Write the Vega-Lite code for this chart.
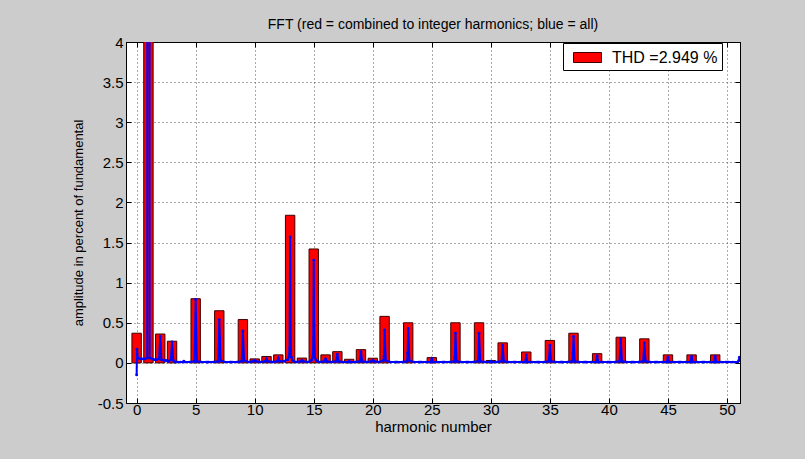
{
  "$schema": "https://vega.github.io/schema/vega-lite/v6.json",
  "width": 614,
  "height": 361,
  "autosize": {"type": "none"},
  "padding": {"left": 126, "top": 42, "right": 65, "bottom": 56},
  "background": "#cccccc",
  "config": {
    "view": {"fill": "white", "stroke": "black", "strokeWidth": 1},
    "font": "Liberation Sans"
  },
  "title": {
    "text": "FFT (red = combined to integer harmonics; blue = all)",
    "fontSize": 14,
    "fontWeight": "normal",
    "font": "Liberation Sans",
    "color": "black",
    "anchor": "middle",
    "offset": 3
  },
  "datasets": {
    "bars": [
      {"harmonic": 0, "amplitude": 0.37, "series": "THD =2.949 %"},
      {"harmonic": 1, "amplitude": 100, "series": "THD =2.949 %"},
      {"harmonic": 2, "amplitude": 0.36, "series": "THD =2.949 %"},
      {"harmonic": 3, "amplitude": 0.27, "series": "THD =2.949 %"},
      {"harmonic": 5, "amplitude": 0.80, "series": "THD =2.949 %"},
      {"harmonic": 7, "amplitude": 0.65, "series": "THD =2.949 %"},
      {"harmonic": 9, "amplitude": 0.54, "series": "THD =2.949 %"},
      {"harmonic": 10, "amplitude": 0.05, "series": "THD =2.949 %"},
      {"harmonic": 11, "amplitude": 0.08, "series": "THD =2.949 %"},
      {"harmonic": 12, "amplitude": 0.10, "series": "THD =2.949 %"},
      {"harmonic": 13, "amplitude": 1.84, "series": "THD =2.949 %"},
      {"harmonic": 14, "amplitude": 0.06, "series": "THD =2.949 %"},
      {"harmonic": 15, "amplitude": 1.42, "series": "THD =2.949 %"},
      {"harmonic": 16, "amplitude": 0.10, "series": "THD =2.949 %"},
      {"harmonic": 17, "amplitude": 0.14, "series": "THD =2.949 %"},
      {"harmonic": 18, "amplitude": 0.045, "series": "THD =2.949 %"},
      {"harmonic": 19, "amplitude": 0.165, "series": "THD =2.949 %"},
      {"harmonic": 20, "amplitude": 0.058, "series": "THD =2.949 %"},
      {"harmonic": 21, "amplitude": 0.58, "series": "THD =2.949 %"},
      {"harmonic": 23, "amplitude": 0.50, "series": "THD =2.949 %"},
      {"harmonic": 25, "amplitude": 0.066, "series": "THD =2.949 %"},
      {"harmonic": 27, "amplitude": 0.50, "series": "THD =2.949 %"},
      {"harmonic": 29, "amplitude": 0.50, "series": "THD =2.949 %"},
      {"harmonic": 30, "amplitude": 0.03, "series": "THD =2.949 %"},
      {"harmonic": 31, "amplitude": 0.25, "series": "THD =2.949 %"},
      {"harmonic": 33, "amplitude": 0.136, "series": "THD =2.949 %"},
      {"harmonic": 35, "amplitude": 0.28, "series": "THD =2.949 %"},
      {"harmonic": 37, "amplitude": 0.37, "series": "THD =2.949 %"},
      {"harmonic": 39, "amplitude": 0.115, "series": "THD =2.949 %"},
      {"harmonic": 41, "amplitude": 0.32, "series": "THD =2.949 %"},
      {"harmonic": 43, "amplitude": 0.30, "series": "THD =2.949 %"},
      {"harmonic": 45, "amplitude": 0.10, "series": "THD =2.949 %"},
      {"harmonic": 47, "amplitude": 0.10, "series": "THD =2.949 %"},
      {"harmonic": 49, "amplitude": 0.10, "series": "THD =2.949 %"}
    ],
    "fft": [
      {"harmonic": 0, "amplitude": -0.15}, {"harmonic": 0.03, "amplitude": 0.17}, {"harmonic": 0.1, "amplitude": 0.06}, {"harmonic": 0.3, "amplitude": 0.05}, {"harmonic": 0.5, "amplitude": 0.05}, {"harmonic": 0.7, "amplitude": 0.05}, {"harmonic": 0.9, "amplitude": 0.06},
      {"harmonic": 1, "amplitude": 100}, {"harmonic": 1.1, "amplitude": 0.06}, {"harmonic": 1.3, "amplitude": 0.05}, {"harmonic": 1.5, "amplitude": 0.04}, {"harmonic": 1.7, "amplitude": 0.04}, {"harmonic": 1.9, "amplitude": 0.05},
      {"harmonic": 2, "amplitude": 0.33}, {"harmonic": 2.1, "amplitude": 0.04}, {"harmonic": 2.3, "amplitude": 0.03}, {"harmonic": 2.5, "amplitude": 0.03}, {"harmonic": 2.7, "amplitude": 0.02}, {"harmonic": 2.9, "amplitude": 0.04},
      {"harmonic": 3, "amplitude": 0.26}, {"harmonic": 3.1, "amplitude": 0.03}, {"harmonic": 3.3, "amplitude": 0.01}, {"harmonic": 3.5, "amplitude": 0.01}, {"harmonic": 3.7, "amplitude": 0.01}, {"harmonic": 3.9, "amplitude": 0.01},
      {"harmonic": 4, "amplitude": 0.02}, {"harmonic": 4.1, "amplitude": 0.01}, {"harmonic": 4.5, "amplitude": 0.01}, {"harmonic": 4.9, "amplitude": 0.02},
      {"harmonic": 5, "amplitude": 0.79}, {"harmonic": 5.1, "amplitude": 0.02}, {"harmonic": 5.5, "amplitude": 0.01}, {"harmonic": 5.9, "amplitude": 0.01},
      {"harmonic": 6, "amplitude": 0.01}, {"harmonic": 6.1, "amplitude": 0.01}, {"harmonic": 6.5, "amplitude": 0.01}, {"harmonic": 6.9, "amplitude": 0.02},
      {"harmonic": 6.95, "amplitude": 0.17}, {"harmonic": 7, "amplitude": 0.54}, {"harmonic": 7.05, "amplitude": 0.31}, {"harmonic": 7.1, "amplitude": 0.03}, {"harmonic": 7.5, "amplitude": 0.01}, {"harmonic": 7.9, "amplitude": 0.01},
      {"harmonic": 8, "amplitude": 0.01}, {"harmonic": 8.1, "amplitude": 0.01}, {"harmonic": 8.5, "amplitude": 0.01}, {"harmonic": 8.9, "amplitude": 0.02},
      {"harmonic": 9, "amplitude": 0.40}, {"harmonic": 9.1, "amplitude": 0.03}, {"harmonic": 9.5, "amplitude": 0.01}, {"harmonic": 9.9, "amplitude": 0.02},
      {"harmonic": 10, "amplitude": 0.03}, {"harmonic": 10.1, "amplitude": 0.02}, {"harmonic": 10.5, "amplitude": 0.01}, {"harmonic": 10.9, "amplitude": 0.02},
      {"harmonic": 11, "amplitude": 0.05}, {"harmonic": 11.1, "amplitude": 0.02}, {"harmonic": 11.5, "amplitude": 0.01}, {"harmonic": 11.9, "amplitude": 0.02},
      {"harmonic": 12, "amplitude": 0.06}, {"harmonic": 12.1, "amplitude": 0.02}, {"harmonic": 12.5, "amplitude": 0.02}, {"harmonic": 12.8, "amplitude": 0.04}, {"harmonic": 12.9, "amplitude": 0.08},
      {"harmonic": 12.95, "amplitude": 0.18}, {"harmonic": 13, "amplitude": 1.57}, {"harmonic": 13.05, "amplitude": 0.15}, {"harmonic": 13.1, "amplitude": 0.07}, {"harmonic": 13.2, "amplitude": 0.03}, {"harmonic": 13.5, "amplitude": 0.01}, {"harmonic": 13.9, "amplitude": 0.02},
      {"harmonic": 14, "amplitude": 0.03}, {"harmonic": 14.1, "amplitude": 0.02}, {"harmonic": 14.5, "amplitude": 0.01}, {"harmonic": 14.8, "amplitude": 0.03}, {"harmonic": 14.9, "amplitude": 0.07},
      {"harmonic": 14.95, "amplitude": 0.15}, {"harmonic": 15, "amplitude": 1.28}, {"harmonic": 15.03, "amplitude": 0.47}, {"harmonic": 15.1, "amplitude": 0.06}, {"harmonic": 15.2, "amplitude": 0.03}, {"harmonic": 15.5, "amplitude": 0.01}, {"harmonic": 15.9, "amplitude": 0.02},
      {"harmonic": 16, "amplitude": 0.05}, {"harmonic": 16.1, "amplitude": 0.02}, {"harmonic": 16.5, "amplitude": 0.01}, {"harmonic": 16.9, "amplitude": 0.02},
      {"harmonic": 17, "amplitude": 0.11}, {"harmonic": 17.1, "amplitude": 0.02}, {"harmonic": 17.5, "amplitude": 0.01}, {"harmonic": 17.9, "amplitude": 0.01},
      {"harmonic": 18, "amplitude": 0.02}, {"harmonic": 18.1, "amplitude": 0.01}, {"harmonic": 18.5, "amplitude": 0.01}, {"harmonic": 18.9, "amplitude": 0.02},
      {"harmonic": 19, "amplitude": 0.14}, {"harmonic": 19.1, "amplitude": 0.02}, {"harmonic": 19.5, "amplitude": 0.01}, {"harmonic": 19.9, "amplitude": 0.02},
      {"harmonic": 20, "amplitude": 0.03}, {"harmonic": 20.1, "amplitude": 0.02}, {"harmonic": 20.5, "amplitude": 0.01}, {"harmonic": 20.9, "amplitude": 0.03},
      {"harmonic": 20.95, "amplitude": 0.08}, {"harmonic": 21, "amplitude": 0.41}, {"harmonic": 21.1, "amplitude": 0.03}, {"harmonic": 21.5, "amplitude": 0.01}, {"harmonic": 21.9, "amplitude": 0.01},
      {"harmonic": 22, "amplitude": 0.01}, {"harmonic": 22.1, "amplitude": 0.01}, {"harmonic": 22.5, "amplitude": 0.01}, {"harmonic": 22.9, "amplitude": 0.02},
      {"harmonic": 22.95, "amplitude": 0.12}, {"harmonic": 23, "amplitude": 0.43}, {"harmonic": 23.1, "amplitude": 0.03}, {"harmonic": 23.5, "amplitude": 0.01}, {"harmonic": 23.9, "amplitude": 0.01},
      {"harmonic": 24, "amplitude": 0.01}, {"harmonic": 24.1, "amplitude": 0.01}, {"harmonic": 24.5, "amplitude": 0.01}, {"harmonic": 24.9, "amplitude": 0.01},
      {"harmonic": 25, "amplitude": 0.05}, {"harmonic": 25.1, "amplitude": 0.01}, {"harmonic": 25.5, "amplitude": 0.01}, {"harmonic": 25.9, "amplitude": 0.01},
      {"harmonic": 26, "amplitude": 0.01}, {"harmonic": 26.1, "amplitude": 0.01}, {"harmonic": 26.5, "amplitude": 0.01}, {"harmonic": 26.9, "amplitude": 0.02},
      {"harmonic": 26.95, "amplitude": 0.07}, {"harmonic": 27, "amplitude": 0.37}, {"harmonic": 27.1, "amplitude": 0.02}, {"harmonic": 27.5, "amplitude": 0.01}, {"harmonic": 27.9, "amplitude": 0.01},
      {"harmonic": 28, "amplitude": 0.01}, {"harmonic": 28.1, "amplitude": 0.01}, {"harmonic": 28.5, "amplitude": 0.01}, {"harmonic": 28.9, "amplitude": 0.02},
      {"harmonic": 28.95, "amplitude": 0.07}, {"harmonic": 29, "amplitude": 0.37}, {"harmonic": 29.1, "amplitude": 0.02}, {"harmonic": 29.5, "amplitude": 0.01}, {"harmonic": 29.9, "amplitude": 0.01},
      {"harmonic": 30, "amplitude": 0.02}, {"harmonic": 30.1, "amplitude": 0.01}, {"harmonic": 30.5, "amplitude": 0.01}, {"harmonic": 30.9, "amplitude": 0.02},
      {"harmonic": 31, "amplitude": 0.22}, {"harmonic": 31.1, "amplitude": 0.02}, {"harmonic": 31.5, "amplitude": 0.01}, {"harmonic": 31.9, "amplitude": 0.01},
      {"harmonic": 32, "amplitude": 0.01}, {"harmonic": 32.1, "amplitude": 0.01}, {"harmonic": 32.5, "amplitude": 0.01}, {"harmonic": 32.9, "amplitude": 0.01},
      {"harmonic": 33, "amplitude": 0.10}, {"harmonic": 33.1, "amplitude": 0.01}, {"harmonic": 33.5, "amplitude": 0.01}, {"harmonic": 33.9, "amplitude": 0.01},
      {"harmonic": 34, "amplitude": 0.01}, {"harmonic": 34.1, "amplitude": 0.01}, {"harmonic": 34.5, "amplitude": 0.01}, {"harmonic": 34.9, "amplitude": 0.02},
      {"harmonic": 35, "amplitude": 0.22}, {"harmonic": 35.1, "amplitude": 0.02}, {"harmonic": 35.5, "amplitude": 0.01}, {"harmonic": 35.9, "amplitude": 0.01},
      {"harmonic": 36, "amplitude": 0.01}, {"harmonic": 36.1, "amplitude": 0.01}, {"harmonic": 36.5, "amplitude": 0.01}, {"harmonic": 36.9, "amplitude": 0.02},
      {"harmonic": 36.95, "amplitude": 0.12}, {"harmonic": 37, "amplitude": 0.33}, {"harmonic": 37.1, "amplitude": 0.02}, {"harmonic": 37.5, "amplitude": 0.01}, {"harmonic": 37.9, "amplitude": 0.01},
      {"harmonic": 38, "amplitude": 0.01}, {"harmonic": 38.1, "amplitude": 0.01}, {"harmonic": 38.5, "amplitude": 0.01}, {"harmonic": 38.9, "amplitude": 0.01},
      {"harmonic": 39, "amplitude": 0.09}, {"harmonic": 39.1, "amplitude": 0.01}, {"harmonic": 39.5, "amplitude": 0.01}, {"harmonic": 39.9, "amplitude": 0.01},
      {"harmonic": 40, "amplitude": 0.01}, {"harmonic": 40.1, "amplitude": 0.01}, {"harmonic": 40.5, "amplitude": 0.01}, {"harmonic": 40.9, "amplitude": 0.02},
      {"harmonic": 41, "amplitude": 0.30}, {"harmonic": 41.1, "amplitude": 0.02}, {"harmonic": 41.5, "amplitude": 0.01}, {"harmonic": 41.9, "amplitude": 0.01},
      {"harmonic": 42, "amplitude": 0.01}, {"harmonic": 42.1, "amplitude": 0.01}, {"harmonic": 42.5, "amplitude": 0.01}, {"harmonic": 42.9, "amplitude": 0.02},
      {"harmonic": 43, "amplitude": 0.25}, {"harmonic": 43.1, "amplitude": 0.02}, {"harmonic": 43.5, "amplitude": 0.01}, {"harmonic": 43.9, "amplitude": 0.01},
      {"harmonic": 44, "amplitude": 0.01}, {"harmonic": 44.1, "amplitude": 0.01}, {"harmonic": 44.5, "amplitude": 0.01}, {"harmonic": 44.9, "amplitude": 0.01},
      {"harmonic": 45, "amplitude": 0.07}, {"harmonic": 45.1, "amplitude": 0.01}, {"harmonic": 45.5, "amplitude": 0.01}, {"harmonic": 45.9, "amplitude": 0.01},
      {"harmonic": 46, "amplitude": 0.01}, {"harmonic": 46.1, "amplitude": 0.01}, {"harmonic": 46.5, "amplitude": 0.01}, {"harmonic": 46.9, "amplitude": 0.01},
      {"harmonic": 47, "amplitude": 0.08}, {"harmonic": 47.1, "amplitude": 0.01}, {"harmonic": 47.5, "amplitude": 0.01}, {"harmonic": 47.9, "amplitude": 0.01},
      {"harmonic": 48, "amplitude": 0.01}, {"harmonic": 48.1, "amplitude": 0.01}, {"harmonic": 48.5, "amplitude": 0.01}, {"harmonic": 48.9, "amplitude": 0.01},
      {"harmonic": 49, "amplitude": 0.08}, {"harmonic": 49.1, "amplitude": 0.01}, {"harmonic": 49.5, "amplitude": 0.01}, {"harmonic": 49.9, "amplitude": 0.01},
      {"harmonic": 50, "amplitude": 0.01}, {"harmonic": 50.1, "amplitude": 0.01}, {"harmonic": 50.5, "amplitude": 0.01}, {"harmonic": 50.9, "amplitude": 0.01},
      {"harmonic": 51, "amplitude": 0.03}, {"harmonic": 51.05, "amplitude": 0.07}
    ]
  },
  "layer": [
    {
      "data": {"name": "bars"},
      "mark": {"type": "bar", "size": 9.4, "clip": true, "stroke": "#400000", "strokeWidth": 1},
      "encoding": {
        "x": {
          "field": "harmonic", "type": "quantitative",
          "scale": {"domain": [-0.9, 51.1], "nice": false, "zero": false, "padding": 0},
          "axis": {
            "orient": "bottom", "values": [0, 5, 10, 15, 20, 25, 30, 35, 40, 45, 50],
            "title": "harmonic number", "titleFontSize": 15, "titleFontWeight": "normal", "titleColor": "black", "titlePadding": 2,
            "labelFontSize": 15, "labelColor": "black", "labelPadding": 4,
            "tickSize": -5, "tickColor": "black", "domainColor": "black",
            "grid": true, "gridDash": [1, 3], "gridColor": "#555555", "gridOpacity": 1
          }
        },
        "y": {
          "field": "amplitude", "type": "quantitative",
          "scale": {"domain": [-0.5, 4], "nice": false, "padding": 0},
          "axis": {
            "orient": "left", "values": [-0.5, 0, 0.5, 1, 1.5, 2, 2.5, 3, 3.5, 4],
            "labelExpr": "datum.value + ''",
            "title": "amplitude in percent of fundamental", "titleFontSize": 13, "titleFontWeight": "normal", "titleColor": "black", "titlePadding": 12,
            "labelFontSize": 15, "labelColor": "black", "labelPadding": 8,
            "tickSize": -5, "tickColor": "black", "domainColor": "black",
            "grid": true, "gridDash": [1, 3], "gridColor": "#555555", "gridOpacity": 1
          }
        },
        "color": {
          "field": "series", "type": "nominal",
          "scale": {"range": ["#ff0000"]},
          "legend": {
            "orient": "none", "legendX": 437, "legendY": 1, "title": null,
            "fillColor": "white", "strokeColor": "black", "padding": 4,
            "labelFontSize": 16, "labelColor": "black", "labelOffset": 24,
            "labelExpr": "datum.label + '\u00a0\u00a0\u00a0\u00a0'",
            "symbolType": "M-0.4,-0.5H2.4V0.5H-0.4Z", "symbolSize": 400,
            "symbolStrokeColor": "#400000", "symbolStrokeWidth": 1, "symbolOpacity": 1
          }
        }
      }
    },
    {
      "data": {"name": "fft"},
      "mark": {"type": "line", "clip": true, "color": "#0000ff", "strokeWidth": 2,
               "point": {"filled": true, "size": 8, "color": "#0000ff"}},
      "encoding": {
        "x": {
          "field": "harmonic", "type": "quantitative",
          "axis": {"orient": "top", "values": [0, 5, 10, 15, 20, 25, 30, 35, 40, 45, 50], "labels": false, "title": null, "grid": false, "tickSize": -5, "tickColor": "black", "domainColor": "black"}
        },
        "y": {
          "field": "amplitude", "type": "quantitative",
          "axis": {"orient": "right", "values": [-0.5, 0, 0.5, 1, 1.5, 2, 2.5, 3, 3.5, 4], "labels": false, "title": null, "grid": false, "tickSize": -5, "tickColor": "black", "domainColor": "black"}
        }
      }
    }
  ],
  "resolve": {"axis": {"x": "independent", "y": "independent"}}
}
